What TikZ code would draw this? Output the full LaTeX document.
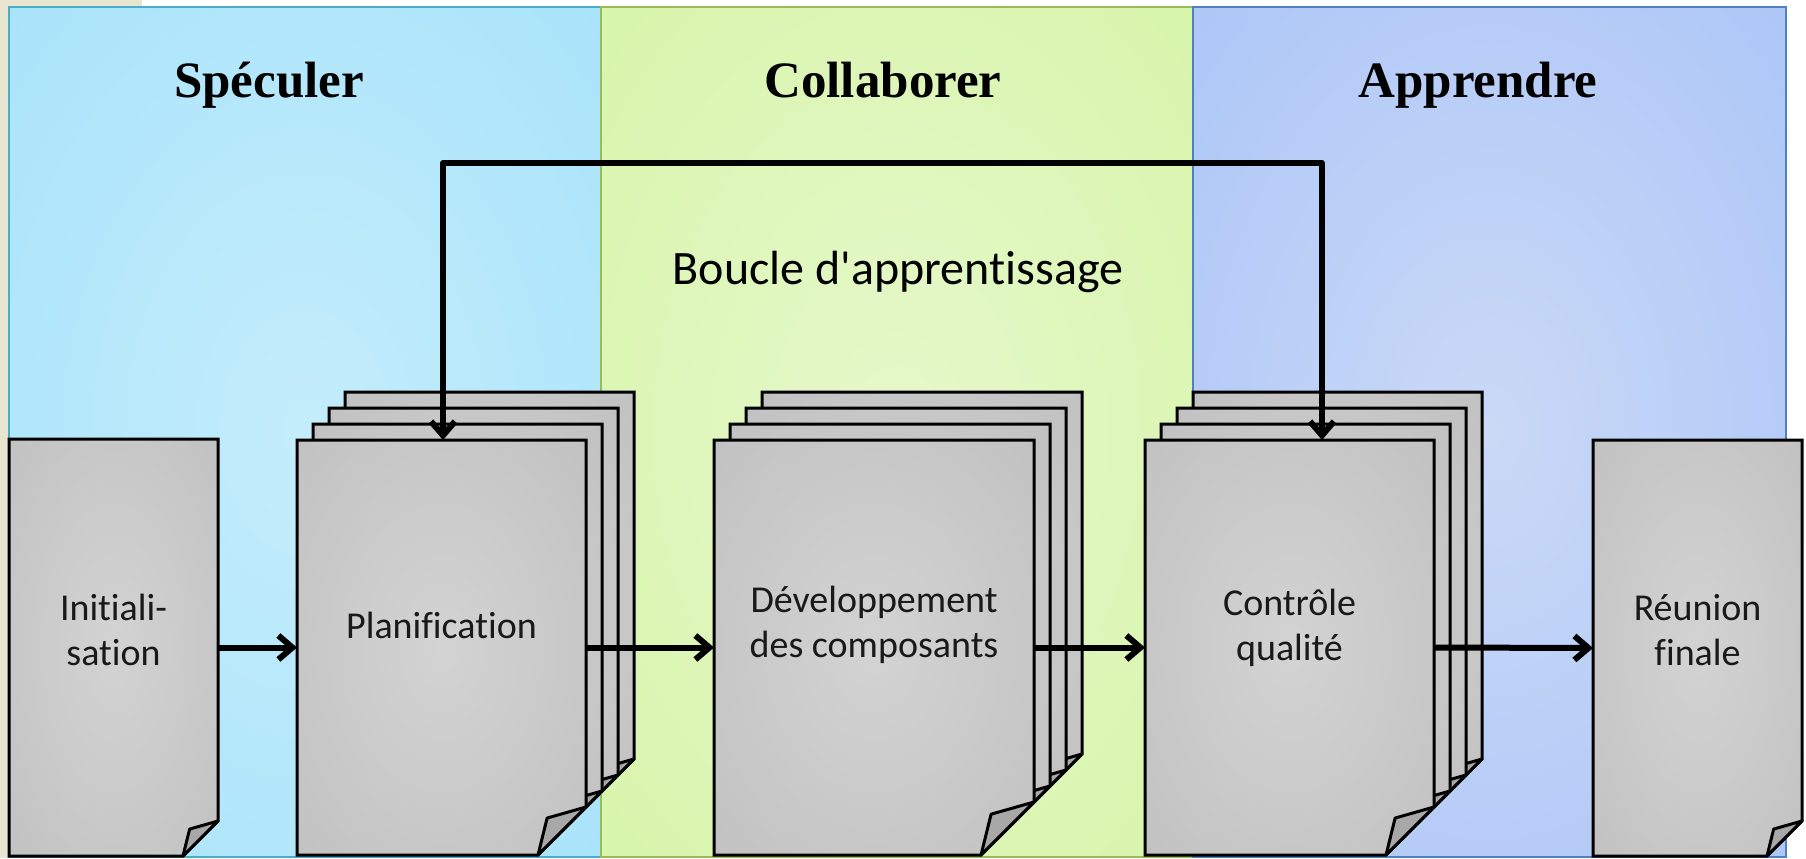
\documentclass[tikz,border=0pt]{standalone}
\usepackage{fontspec}
\setmainfont[Ligatures=NoCommon]{Carlito}
\newfontfamily\headfont{Liberation Serif}
\usetikzlibrary{arrows.meta}

\definecolor{bgBeige}{HTML}{E8E5D0}
\definecolor{spOut}{HTML}{A0E0FB}
\definecolor{spIn}{HTML}{C4EDFB}
\definecolor{spLine}{HTML}{4BACC6}
\definecolor{coOut}{HTML}{D2F4A0}
\definecolor{coIn}{HTML}{E6F8CB}
\definecolor{coLine}{HTML}{9BBB59}
\definecolor{apOut}{HTML}{A3C0F8}
\definecolor{apIn}{HTML}{CAD9F6}
\definecolor{apLine}{HTML}{4F81BD}
\definecolor{pageIn}{HTML}{D3D3D3}
\definecolor{pageOut}{HTML}{B5B5B5}
\definecolor{flapGray}{HTML}{A8A8A8}

% soft radial fills
\pgfdeclareradialshading{pageShade}{\pgfpoint{0bp}{0bp}}{color(0bp)=(pageIn); color(62bp)=(pageOut); color(75bp)=(pageOut)}
\pgfdeclareradialshading{spShade}{\pgfpoint{0bp}{0bp}}{color(0bp)=(spIn); color(48bp)=(spOut); color(75bp)=(spOut)}
\pgfdeclareradialshading{coShade}{\pgfpoint{0bp}{0bp}}{color(0bp)=(coIn); color(48bp)=(coOut); color(75bp)=(coOut)}
\pgfdeclareradialshading{apShade}{\pgfpoint{0bp}{0bp}}{color(0bp)=(apIn); color(48bp)=(apOut); color(75bp)=(apOut)}

\tikzset{
  panel/.style={line width=1pt},
  sheet/.style={draw=black, line width=1.5pt, shading=pageShade},
  flap/.style={draw=black, fill=flapGray, line width=1.5pt, line join=round},
  pagebox/.style={inner sep=0pt, outer sep=0pt},
  steplabel/.style={font=\fontsize{19}{22.5}\selectfont, align=center, text=black!90},
  phasetitle/.style={font=\headfont\bfseries\fontsize{25.5}{30}\selectfont, anchor=base},
  conn/.style={line width=3pt, line join=round, -{Straight Barb[length=7pt,width=12pt]}},
  loopconn/.style={line width=3pt, line join=round,
    {Straight Barb[length=7pt,width=12pt]}-{Straight Barb[length=7pt,width=12pt]}}
}

% one sheet with a folded lower-right corner: x1, y1, x2, y2, fold size
\newcommand\foldsheet[5]{%
  \path[sheet] (#1,#2) -- (#3,#2) -- (#3,{#4-#5}) -- ({#3-#5},#4) -- (#1,#4) -- cycle;
  \path[flap] ({#3-#5},#4) -- ({#3-0.81*#5},{#4-0.77*#5}) -- (#3,{#4-#5}) -- cycle;
}
% three sheets stacked behind a front sheet
\newcommand\sheetstack[5]{%
  \foreach \k in {3,2,1}{%
    \foldsheet{#1+16*\k}{#2-16*\k}{#3+16*\k}{#4-16*\k}{#5}%
  }%
  \foldsheet{#1}{#2}{#3}{#4}{#5}%
}

\begin{document}
\begin{tikzpicture}[x=0.5pt, y=-0.5pt]
  \useasboundingbox (0,0) rectangle (1806,858);
  \fill[white] (0,0) rectangle (1806,858);
  \fill[bgBeige] (0,0) rectangle (9,858);
  \fill[bgBeige] (0,0) rectangle (142,7);

  % the three phase panels
  \path[panel, draw=spLine, shading=spShade] (9,7) rectangle (601,857);
  \path[panel, draw=coLine, shading=coShade] (601,7) rectangle (1193,857);
  \path[panel, draw=apLine, shading=apShade] (1193,7) rectangle (1786,857);

  \node[phasetitle] (tSpec) at (269,97) {Spéculer};
  \node[phasetitle] (tColl) at (883,97) {Collaborer};
  \node[phasetitle] (tAppr) at (1478,97) {Apprendre};

  \node[font=\fontsize{24}{28}\selectfont] (loopLabel) at (898,272) {Boucle d\textquotesingle apprentissage};

  % documents
  \foldsheet{9}{439}{218}{856}{35}
  \sheetstack{297}{440}{586}{855}{48}
  \sheetstack{714}{440}{1034}{855}{53}
  \sheetstack{1145}{440}{1434}{855}{48}
  \foldsheet{1593}{440}{1802}{856}{35}

  \node[pagebox, minimum width=104.5pt, minimum height=208.5pt] (init) at (113.5,647.5) {};
  \node[pagebox, minimum width=144.5pt, minimum height=207.5pt] (plan) at (441.5,647.5) {};
  \node[pagebox, minimum width=160pt,   minimum height=207.5pt] (dev)  at (874,647.5) {};
  \node[pagebox, minimum width=144.5pt, minimum height=207.5pt] (ctrl) at (1289.5,647.5) {};
  \node[pagebox, minimum width=104.5pt, minimum height=208pt]   (reu)  at (1697.5,648) {};

  \node[steplabel] (lInit) at ([yshift=9pt]init.center) {Initiali-\\sation};
  \node[steplabel] (lPlan) at ([yshift=11pt]plan.center) {Planification};
  \node[steplabel] (lDev)  at ([yshift=11.5pt]dev.center) {Développement\\des composants};
  \node[steplabel] (lCtrl) at ([yshift=10pt]ctrl.center) {Contrôle\\qualité};
  \node[steplabel] (lReu)  at ([yshift=9pt]reu.center) {Réunion\\finale};

  % flow between the steps
  \draw[conn] (init.east) -- (plan.west);
  \draw[conn] (plan.east) -- (dev.west);
  \draw[conn] (dev.east) -- (ctrl.west);
  \draw[conn] (ctrl.east) -- (reu.west);

  % learning loop
  \coordinate (loopTop) at (0,163);
  \coordinate (ctrlIn) at ([xshift=16.25pt]ctrl.north);
  \draw[loopconn] ([xshift=0.75pt]plan.north) -- ([xshift=0.75pt]plan.north |- loopTop)
    -- (ctrlIn |- loopTop) -- (ctrlIn);
\end{tikzpicture}
\end{document}
